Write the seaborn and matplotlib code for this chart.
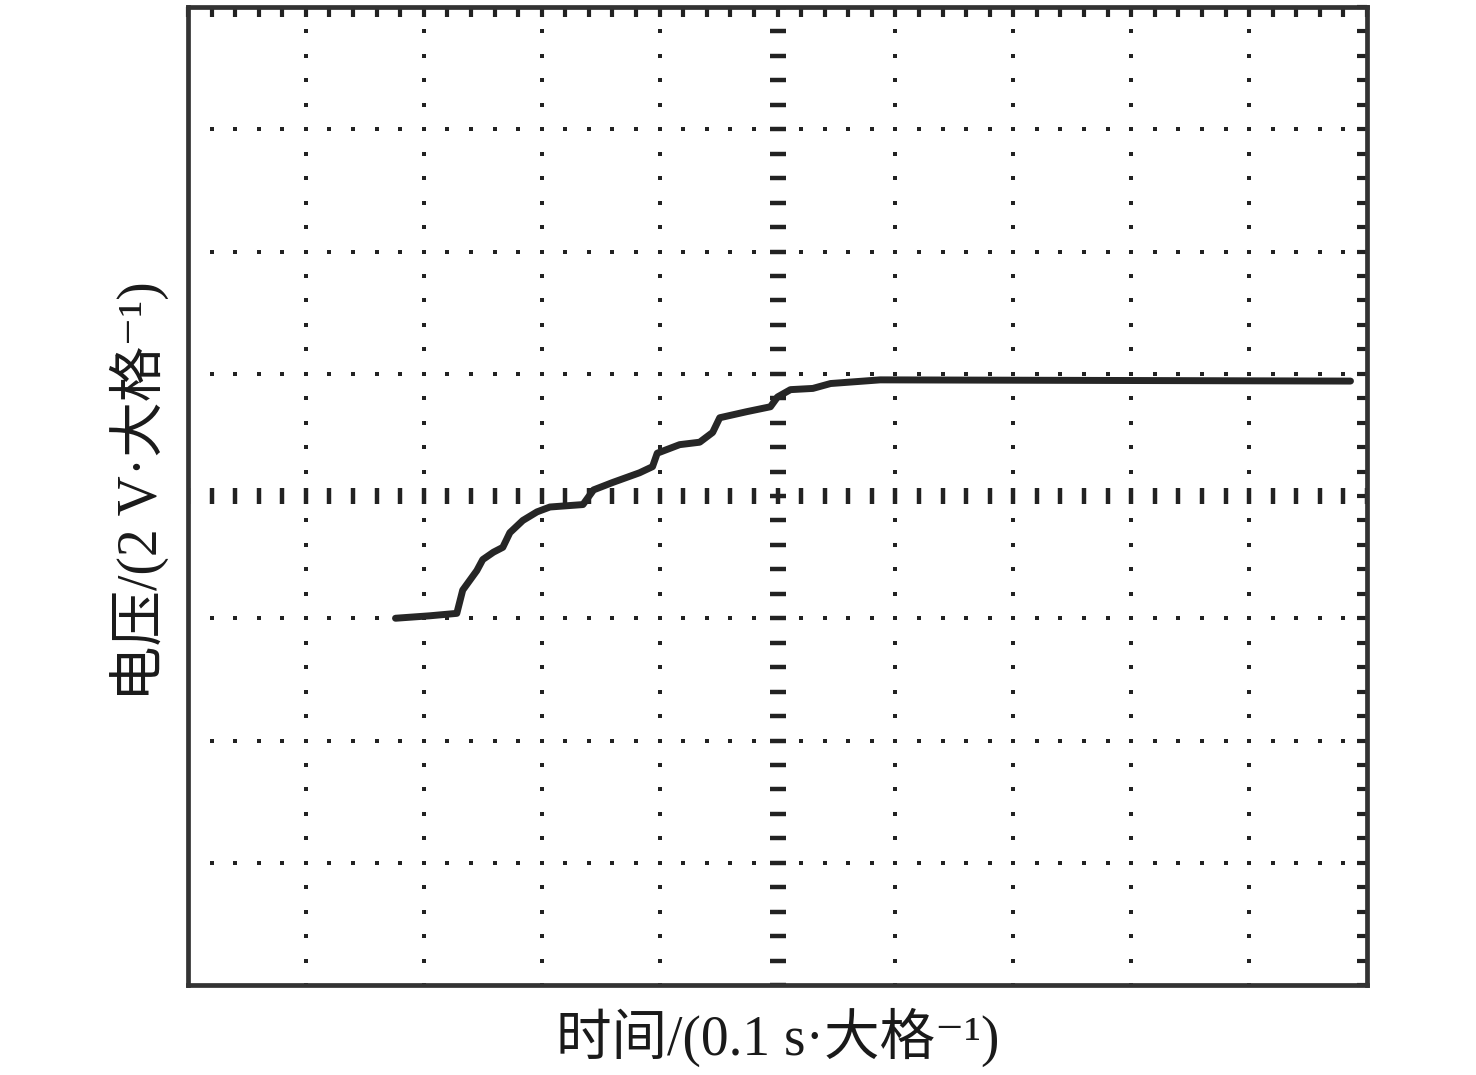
import numpy as np
import pandas as pd
import matplotlib
matplotlib.use("Agg")
import matplotlib.pyplot as plt
import seaborn as sns

# trace: x in divisions (0..10), y in divisions (0..8)
t_div = [1.76, 2.05, 2.28, 2.33, 2.45, 2.50, 2.59, 2.67, 2.73, 2.84, 2.96, 3.07,
         3.35, 3.44, 3.60, 3.83, 3.94, 3.98, 4.17, 4.34, 4.45, 4.51, 4.74, 4.94,
         5.00, 5.11, 5.30, 5.45, 5.87, 9.86]
v_div = [3.00, 3.02, 3.04, 3.23, 3.39, 3.48, 3.54, 3.58, 3.70, 3.80, 3.87, 3.91,
         3.93, 4.05, 4.11, 4.19, 4.24, 4.35, 4.42, 4.44, 4.52, 4.64, 4.69, 4.73,
         4.81, 4.87, 4.88, 4.92, 4.95, 4.94]

x_label = "时间/(0.1 s·大格⁻¹)"
y_label = "电压/(2 V·大格⁻¹)"

n_x, n_y = 10, 8
ink = "#222222"

sns.set_style("white")
plt.rcParams["font.family"] = ["Liberation Serif", "DejaVu Serif", "Noto Sans CJK SC"]

fig = plt.figure(figsize=(14.76, 10.75), dpi=100)
ax = fig.add_axes([188 / 1476, 90 / 1075, 1179 / 1476, 978 / 1075])

# dotted graticule
mx = np.arange(0, n_x + 0.001, 0.2)
my = np.arange(0, n_y + 0.001, 0.2)
for gx in range(1, n_x):
    if gx == n_x // 2:
        continue
    ax.plot(np.full_like(my, gx), my, ls="none", marker="s", ms=3.4, color=ink, mew=0)
for gy in range(1, n_y):
    if gy == n_y // 2:
        continue
    ax.plot(mx, np.full_like(mx, gy), ls="none", marker="s", ms=3.4, color=ink, mew=0)

# centre axes with tick dashes
ax.plot(np.full_like(my, n_x / 2), my, ls="none", marker="_", ms=11, mew=3.2, color=ink)
ax.plot(mx, np.full_like(mx, n_y / 2), ls="none", marker="|", ms=11, mew=3.2, color=ink)

df = pd.DataFrame({"t": t_div, "v": v_div})
sns.lineplot(data=df, x="t", y="v", ax=ax, color="#262626", linewidth=5.0,
             estimator=None, sort=False)

ax.set_xlim(0, n_x)
ax.set_ylim(0, n_y)
ax.set_xticks(mx)
ax.set_yticks(my)
ax.tick_params(which="both", direction="in", length=7.5, width=3.0, color=ink,
               top=True, right=True, labelbottom=False, labelleft=False)
for s in ax.spines.values():
    s.set_linewidth(3.4)
    s.set_color("#333333")
ax.set_xlabel("")
ax.set_ylabel("")

ax.text(0.5, -0.054, x_label, transform=ax.transAxes, ha="center", va="center",
        fontsize=40, color="#1a1a1a")
ax.text(-0.041, 0.505, y_label, transform=ax.transAxes, ha="center", va="center",
        rotation=90, fontsize=40, color="#1a1a1a")

fig.savefig("out.png", dpi=100)
